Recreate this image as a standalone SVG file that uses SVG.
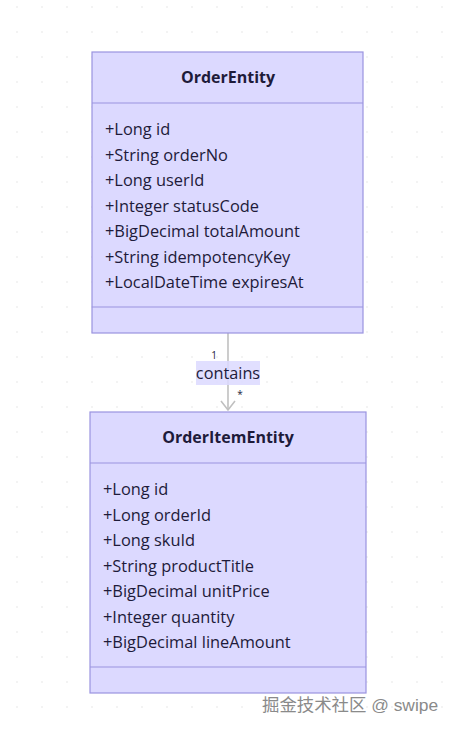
<svg xmlns="http://www.w3.org/2000/svg" width="454" height="730" viewBox="0 0 454 730">
<defs>
<pattern id="dots" x="0" y="0" width="25" height="25" patternUnits="userSpaceOnUse">
<circle cx="17" cy="7" r="1" fill="#efefef"/>
</pattern>
</defs>
<style>
.box{fill:#dcd9ff;stroke:#9a93e0;stroke-width:1.2}
.div{stroke:#9a93e0;stroke-width:1.2}
.title{font-family:"Open Sans","DejaVu Sans",sans-serif;font-size:16px;font-weight:bold;fill:#1e1b3a;text-anchor:middle}
.attr{font-family:"Open Sans","DejaVu Sans",sans-serif;font-size:16.4px;fill:#1e1b3a}
.lbl{font-family:"Open Sans","DejaVu Sans",sans-serif;font-size:16.3px;fill:#1e1b3a;text-anchor:middle}
.card{font-family:"Open Sans","DejaVu Sans",sans-serif;font-size:10px;fill:#1e1b3a;text-anchor:middle}
.wm{font-family:"Liberation Sans","Noto Sans CJK SC",sans-serif;font-size:17.4px;fill:#8a8a8a}
.edge{fill:none;stroke:#c0c0c0;stroke-width:1.6}
</style>
<rect width="454" height="730" fill="#ffffff"/>
<rect width="454" height="730" fill="url(#dots)"/>
<g id="connectors">
<line class="edge" x1="228" y1="333" x2="228" y2="410"/>
<path class="edge" d="M221 401 L228 410 L235 401" stroke-width="1.8"/>
<rect x="196" y="361" width="64" height="24" fill="#dcd9ff" opacity="0.85"/>
<text class="lbl" x="228" y="379">contains</text>
<text class="card" x="214" y="359">1</text>
<text class="card" x="240" y="398">*</text>
</g>
<g id="OrderEntity">
<rect class="box" x="92" y="52" width="271" height="281"/>
<line class="div" x1="92" y1="103" x2="363" y2="103"/>
<line class="div" x1="92" y1="307" x2="363" y2="307"/>
<text class="title" x="228" y="83">OrderEntity</text>
<text class="attr" x="105" y="135">+Long id</text>
<text class="attr" x="105" y="161">+String orderNo</text>
<text class="attr" x="105" y="186">+Long userId</text>
<text class="attr" x="105" y="212">+Integer statusCode</text>
<text class="attr" x="105" y="237">+BigDecimal totalAmount</text>
<text class="attr" x="105" y="263">+String idempotencyKey</text>
<text class="attr" x="105" y="288">+LocalDateTime expiresAt</text>
</g>
<g id="OrderItemEntity">
<rect class="box" x="90" y="412" width="276" height="281"/>
<line class="div" x1="90" y1="463" x2="366" y2="463"/>
<line class="div" x1="90" y1="667" x2="366" y2="667"/>
<text class="title" x="228" y="443">OrderItemEntity</text>
<text class="attr" x="103" y="495">+Long id</text>
<text class="attr" x="103" y="521">+Long orderId</text>
<text class="attr" x="103" y="546">+Long skuId</text>
<text class="attr" x="103" y="572">+String productTitle</text>
<text class="attr" x="103" y="597">+BigDecimal unitPrice</text>
<text class="attr" x="103" y="623">+Integer quantity</text>
<text class="attr" x="103" y="648">+BigDecimal lineAmount</text>
</g>
<text class="wm" x="262" y="711">掘金技术社区 @ swipe</text>
</svg>
